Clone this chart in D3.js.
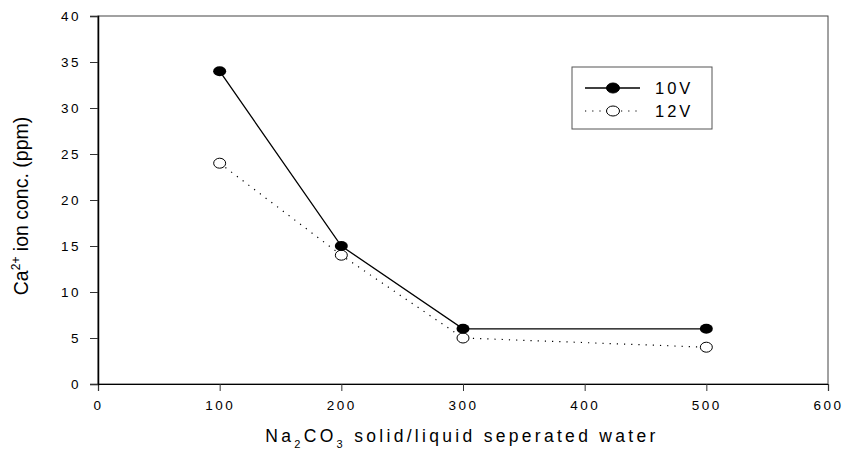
<!DOCTYPE html>
<html>
<head>
<meta charset="utf-8">
<script src="https://cdn.jsdelivr.net/npm/d3@7"></script>
<style>
  body { margin: 0; background: #fff; }
  svg { font-family: "Liberation Sans", Arial, sans-serif; }
</style>
</head>
<body>
<svg id="chart" width="843" height="452"></svg>
<script>
// 数据
const xValues = [100, 200, 300, 500];
const series10V = [34, 15, 6, 6];
const series12V = [24, 14, 5, 4];
const xTicks = [0, 100, 200, 300, 400, 500, 600];
const yTicks = [0, 5, 10, 15, 20, 25, 30, 35, 40];
const seriesNames = ["10V", "12V"];

const margin = {top: 16, right: 15, bottom: 68, left: 98},
      width = 843 - margin.left - margin.right,
      height = 452 - margin.top - margin.bottom;

const svg = d3.select("#chart");
const g = svg.append("g").attr("transform", `translate(${margin.left},${margin.top})`);

const x = d3.scaleLinear().domain([0, 600]).range([0, width]);
const y = d3.scaleLinear().domain([0, 40]).range([height, 0]);

// 框
g.append("rect")
    .attr("width", width).attr("height", height)
    .attr("fill", "none").attr("stroke", "#444").attr("stroke-width", 1);

const xAxis = g.append("g")
    .attr("transform", `translate(0,${height})`)
    .call(d3.axisBottom(x).tickValues(xTicks).tickSize(7).tickPadding(9));
const yAxis = g.append("g")
    .call(d3.axisLeft(y).tickValues(yTicks).tickSize(8).tickPadding(9));

[xAxis, yAxis].forEach(a => {
    a.select(".domain").attr("stroke", "#000").attr("stroke-width", 1.5);
    a.selectAll(".tick line").attr("stroke", "#333");
    a.selectAll(".tick text")
        .attr("font-size", 13.5)
        .attr("fill", "#000")
        .style("letter-spacing", "2.5px");
});
xAxis.select(".domain").attr("stroke-width", 1.2);

const line = d3.line().x((d, i) => x(xValues[i])).y(d => y(d));

g.append("path").datum(series12V)
    .attr("fill", "none").attr("stroke", "#000").attr("stroke-width", 1.2)
    .attr("stroke-dasharray", "1.2,6").attr("d", line);
g.append("path").datum(series10V)
    .attr("fill", "none").attr("stroke", "#000").attr("stroke-width", 1.3)
    .attr("d", line);

g.selectAll(".dot12").data(series12V).enter().append("ellipse")
    .attr("cx", (d, i) => x(xValues[i])).attr("cy", d => y(d))
    .attr("rx", 6).attr("ry", 5)
    .attr("fill", "#fff").attr("stroke", "#000").attr("stroke-width", 1);
g.selectAll(".dot10").data(series10V).enter().append("ellipse")
    .attr("cx", (d, i) => x(xValues[i])).attr("cy", d => y(d))
    .attr("rx", 6.5).attr("ry", 5)
    .attr("fill", "#000");

// 图例
const legend = svg.append("g").attr("transform", "translate(572,67)");
legend.append("rect").attr("width", 140).attr("height", 62)
    .attr("fill", "#fff").attr("stroke", "#555").attr("stroke-width", 1);
seriesNames.forEach((name, i) => {
    const ly = 21 + i * 23;
    legend.append("line")
        .attr("x1", 13).attr("x2", 68).attr("y1", ly).attr("y2", ly)
        .attr("stroke", "#000").attr("stroke-width", i === 0 ? 1.3 : 1.2)
        .attr("stroke-dasharray", i === 0 ? null : "1.2,6");
    legend.append("ellipse")
        .attr("cx", 41).attr("cy", ly).attr("rx", 6.5).attr("ry", 5)
        .attr("fill", i === 0 ? "#000" : "#fff")
        .attr("stroke", "#000").attr("stroke-width", 1);
    legend.append("text")
        .attr("x", 83).attr("y", ly + 6)
        .attr("font-size", 16.5).style("letter-spacing", "3px")
        .text(name);
});

// 坐标轴标题
const xt = svg.append("text")
    .attr("x", margin.left + width / 2 - 1).attr("y", 442)
    .attr("text-anchor", "middle").attr("font-size", 17.5)
    .style("letter-spacing", "3.3px");
xt.append("tspan").text("Na");
xt.append("tspan").attr("dy", 6).attr("font-size", 11).text("2");
xt.append("tspan").attr("dy", -6).text("CO");
xt.append("tspan").attr("dy", 6).attr("font-size", 11).text("3");
xt.append("tspan").attr("dy", -6).text(" solid/liquid seperated water");

const yt = svg.append("text")
    .attr("transform", `translate(28,${margin.top + height / 2 + 6}) rotate(-90)`)
    .attr("text-anchor", "middle").attr("font-size", 19.5);
yt.append("tspan").text("Ca");
yt.append("tspan").attr("dy", -8).attr("font-size", 12).text("2+");
yt.append("tspan").attr("dy", 8).text(" ion conc. (ppm)");
</script>
</body>
</html>
